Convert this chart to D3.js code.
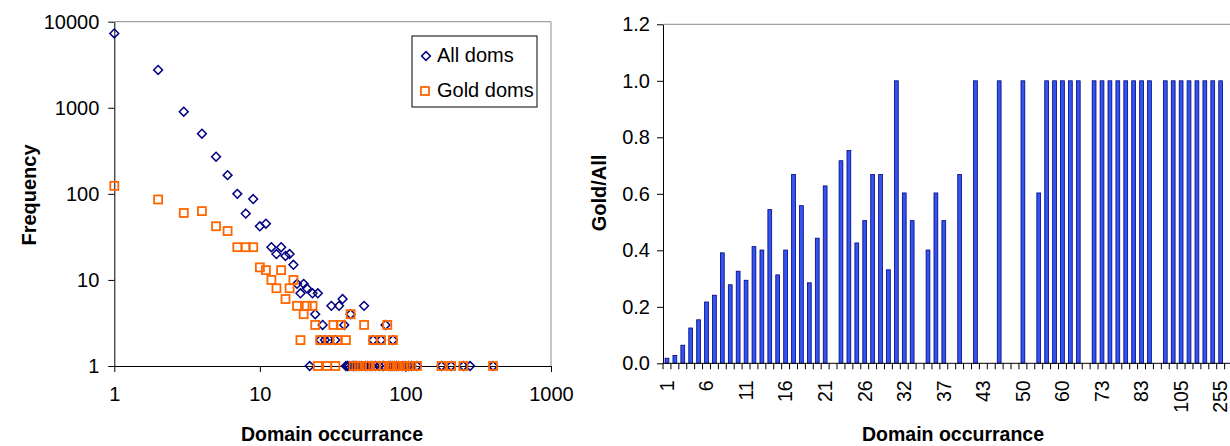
<!DOCTYPE html>
<html>
<head>
<meta charset="utf-8">
<script src="https://cdn.jsdelivr.net/npm/d3@7"></script>
<style>
  body { margin: 0; background: #fff; }
  svg { display: block; font-family: "Liberation Sans", Arial, sans-serif; }
</style>
</head>
<body>
<svg id="chart" width="1230" height="446"></svg>
<script>
// Left chart: [domain occurrence, frequency]
const allDoms = [
  [1, 7300], [2, 2750], [3, 900], [4, 500], [5, 270], [6, 165], [7, 100], [8, 59], [9, 87],
  [10, 42], [11, 45], [12, 24], [13, 20], [14, 24], [15, 19], [16, 20], [17, 15], [18, 9],
  [19, 7], [20, 9], [21, 8], [22, 1], [23, 7], [24, 4], [25, 7], [26, 2], [27, 3], [28, 2],
  [30, 2], [31, 5], [33, 2], [35, 5], [37, 6], [38, 3], [42, 4], [52, 5], [60, 2], [68, 2],
  [73, 3], [82, 2],
  [39, 1], [40, 1], [41, 1], [43, 1], [44, 1], [45, 1], [46, 1], [48, 1], [50, 1], [53, 1],
  [55, 1], [57, 1], [59, 1], [62, 1], [66, 1], [70, 1], [71, 1], [77, 1], [79, 1], [81, 1],
  [84, 1], [87, 1], [90, 1], [96, 1], [100, 1], [105, 1], [110, 1], [120, 1], [177, 1],
  [206, 1], [250, 1], [278, 1], [400, 1]
];
const goldDoms = [
  [1, 124], [2, 86], [3, 60], [4, 63], [5, 42], [6, 37], [7, 24], [8, 24], [9, 24],
  [10, 14], [11, 13], [12, 10], [13, 8], [14, 13], [15, 6], [16, 8], [17, 10], [18, 5],
  [19, 2], [20, 4], [21, 5], [23, 5], [24, 3], [25, 1], [26, 2], [29, 1], [30, 2], [32, 3],
  [33, 1], [34, 2], [36, 3], [39, 2], [42, 4], [52, 3], [60, 2], [68, 2], [75, 3], [82, 2],
  [44, 1], [46, 1], [48, 1], [50, 1], [53, 1], [55, 1], [57, 1], [63, 1], [71, 1], [77, 1],
  [79, 1], [81, 1], [84, 1], [87, 1], [90, 1], [96, 1], [100, 1], [105, 1], [110, 1],
  [120, 1], [177, 1], [206, 1], [250, 1], [400, 1]
];
const xTicksLog = [1, 10, 100, 1000];
const yTicksLog = [1, 10, 100, 1000, 10000];

// Right chart: occurrence categories and Gold/All ratio
const occurrences = [
  1, 2, 3, 4, 5, 6, 7, 8, 9, 10, 11, 12, 13, 14, 15, 16, 17, 18, 19, 20, 21, 22, 23, 24, 25, 26,
  27, 28, 29, 30, 32, 33, 34, 35, 36, 37, 38, 39, 41, 42, 43, 44, 45, 47, 48, 50,
  51, 52, 55, 57, 60, 62, 64, 67, 70, 73, 75, 77, 79, 81, 83, 85, 90, 96, 100, 105,
  110, 120, 177, 206, 255, 279, 400
];
const ratios = [
  0.018, 0.028, 0.064, 0.125, 0.154, 0.217, 0.241, 0.391, 0.278, 0.326, 0.294, 0.413, 0.401,
  0.544, 0.313, 0.401, 0.668, 0.558, 0.285, 0.443, 0.628, 0, 0.717, 0.753, 0.426, 0.505,
  0.668, 0.668, 0.331, 1.0, 0.603, 0.505, 0, 0.401, 0.603, 0.505, 0, 0.668, 0, 1.0, 0,
  0, 1.0, 0, 0, 1.0, 0, 0.603, 1.0, 1.0, 1.0, 1.0, 1.0, 0, 1.0, 1.0, 1.0, 1.0, 1.0, 1.0,
  1.0, 1.0, 0, 1.0, 1.0, 1.0, 1.0, 1.0, 1.0, 1.0, 1.0, 0, 1.0
];
const ratioTicks = [0, 0.2, 0.4, 0.6, 0.8, 1.0, 1.2];

const svg = d3.select('#chart');
const W = 1230;

// ---------- left chart ----------
const lx = d3.scaleLog().domain([1, 1000]).range([114.3, 551]);
const ly = d3.scaleLog().domain([1, 10000]).range([366, 21.7]);
const left = svg.append('g');

left.append('path')
  .attr('d', `M${lx(1)},${ly(10000)}H${lx(1000)}V${ly(1)}`)
  .attr('fill', 'none')
  .attr('stroke', '#8c8c8c');

const lxAxis = left.append('g')
  .attr('transform', `translate(0,${ly(1)})`)
  .call(d3.axisBottom(lx).tickValues(xTicksLog).tickFormat(d3.format('d')).tickSize(6).tickSizeOuter(0));
lxAxis.selectAll('text').attr('y', 35).attr('dy', 0);

const lyAxis = left.append('g')
  .attr('transform', `translate(${lx(1)},0)`)
  .call(d3.axisLeft(ly).tickValues(yTicksLog).tickFormat(d3.format('d')).tickSize(6).tickSizeOuter(0));
lyAxis.selectAll('text').attr('x', -15);

[lxAxis, lyAxis].forEach(a => {
  a.selectAll('text').attr('font-size', 20).attr('fill', '#000').attr('font-family', null);
  a.selectAll('line, path').attr('stroke', '#000');
});

const diamond = 'M0,-4.4L4.4,0L0,4.4L-4.4,0Z';

left.append('g').selectAll('path')
  .data(allDoms)
  .join('path')
  .attr('d', diamond)
  .attr('transform', d => `translate(${lx(d[0])},${ly(d[1])})`)
  .attr('fill', 'none')
  .attr('stroke', '#000080')
  .attr('stroke-width', 1.5);

left.append('g').selectAll('rect')
  .data(goldDoms)
  .join('rect')
  .attr('x', d => lx(d[0]) - 4)
  .attr('y', d => ly(d[1]) - 4)
  .attr('width', 8)
  .attr('height', 8)
  .attr('fill', 'none')
  .attr('stroke', '#ff6600')
  .attr('stroke-width', 1.8);

// legend
const legend = left.append('g');
legend.append('rect')
  .attr('x', 412).attr('y', 36).attr('width', 125).attr('height', 71)
  .attr('fill', '#fff').attr('stroke', '#000');
legend.append('path').attr('d', diamond).attr('transform', 'translate(426,56)')
  .attr('fill', 'none').attr('stroke', '#000080').attr('stroke-width', 1.5);
legend.append('rect').attr('x', 421).attr('y', 87).attr('width', 8).attr('height', 8)
  .attr('fill', 'none').attr('stroke', '#ff6600').attr('stroke-width', 1.8);
legend.append('text').attr('x', 437).attr('y', 62).attr('font-size', 20).text('All doms');
legend.append('text').attr('x', 437).attr('y', 97).attr('font-size', 20).text('Gold doms');

left.append('text')
  .attr('x', 332).attr('y', 441)
  .attr('text-anchor', 'middle')
  .attr('font-size', 19.5).attr('font-weight', 'bold')
  .text('Domain occurrance');
left.append('text')
  .attr('transform', 'translate(36,195) rotate(-90)')
  .attr('text-anchor', 'middle')
  .attr('font-size', 20).attr('font-weight', 'bold')
  .text('Frequency');

// ---------- right chart ----------
const step = 7.91;
const x0 = 663;
const rx = d3.scaleBand()
  .domain(d3.range(occurrences.length))
  .range([x0, x0 + occurrences.length * step])
  .paddingInner(0.52)
  .paddingOuter(0.26);
const ry = d3.scaleLinear().domain([0, 1.2]).range([363.3, 24.3]);
const right = svg.append('g');

right.append('line')
  .attr('x1', x0).attr('x2', W)
  .attr('y1', ry(1.2)).attr('y2', ry(1.2))
  .attr('stroke', '#8c8c8c');

right.append('g').selectAll('rect')
  .data(ratios.map((v, i) => ({ i, v })).filter(d => d.v > 0))
  .join('rect')
  .attr('x', d => rx(d.i))
  .attr('y', d => ry(d.v))
  .attr('width', rx.bandwidth())
  .attr('height', d => ry(0) - ry(d.v))
  .attr('fill', '#3355ee')
  .attr('stroke', '#000080')
  .attr('stroke-width', 0.8);

const ryAxis = right.append('g')
  .attr('transform', `translate(${x0},0)`)
  .call(d3.axisLeft(ry).tickValues(ratioTicks).tickFormat(d3.format('.1f')).tickSize(6).tickSizeOuter(0));
ryAxis.selectAll('text').attr('x', -13).attr('font-size', 20).attr('fill', '#000').attr('font-family', null);
ryAxis.selectAll('line, path').attr('stroke', '#000');

// category axis
const xa = right.append('g').attr('transform', `translate(0,${ry(0)})`);
xa.append('line').attr('x1', x0).attr('x2', W).attr('stroke', '#000');
const bounds = d3.range(occurrences.length + 1).map(i => x0 + i * rx.step());
xa.selectAll('line.tick')
  .data(bounds)
  .join('line')
  .attr('class', 'tick')
  .attr('x1', d => d).attr('x2', d => d)
  .attr('y1', 0).attr('y2', 6)
  .attr('stroke', '#000');
xa.selectAll('text')
  .data(occurrences.map((v, i) => ({ v, i })).filter(d => d.i % 5 === 0))
  .join('text')
  .attr('transform', d => `translate(${rx(d.i) + rx.bandwidth() / 2},17) rotate(-90)`)
  .attr('text-anchor', 'end')
  .attr('dy', '0.35em')
  .attr('font-size', 19.5)
  .text(d => d.v);

right.append('text')
  .attr('x', 953).attr('y', 441)
  .attr('text-anchor', 'middle')
  .attr('font-size', 19.5).attr('font-weight', 'bold')
  .text('Domain occurrance');
right.append('text')
  .attr('transform', 'translate(606,193) rotate(-90)')
  .attr('text-anchor', 'middle')
  .attr('font-size', 20).attr('font-weight', 'bold')
  .text('Gold/All');
</script>
</body>
</html>
